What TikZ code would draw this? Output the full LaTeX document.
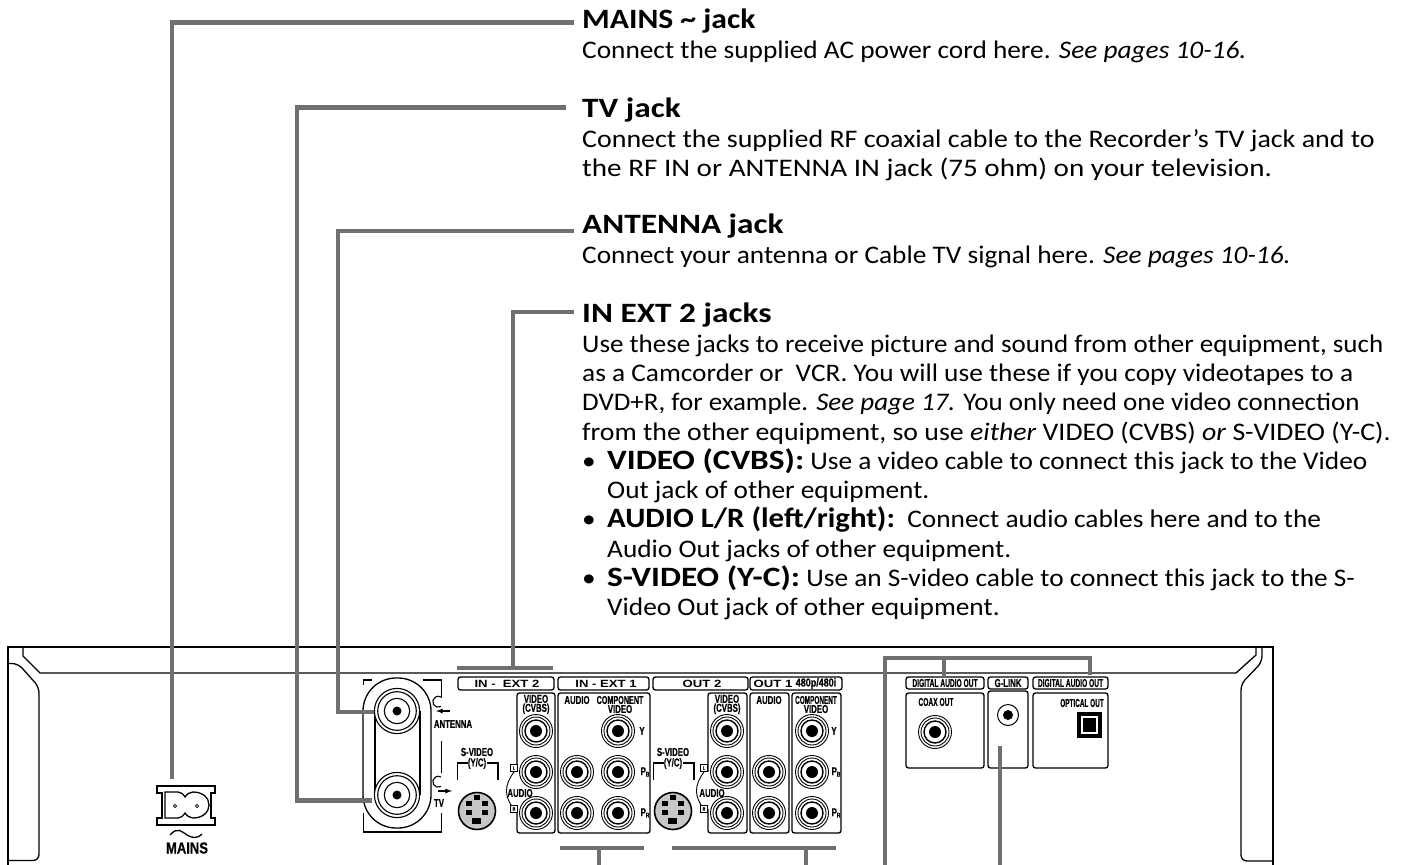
\documentclass[tikz,border=0pt]{standalone}
\usepackage{fontspec}
\setmainfont[FakeStretch=1.08]{Carlito}
\newfontfamily\headfont[FakeStretch=1.19]{Carlito}
\newfontfamily\devfont[FakeStretch=0.68, FakeBold=0.4]{Liberation Sans}
\newfontfamily\widefont[FakeStretch=1.25]{Liberation Sans}
\usetikzlibrary{positioning}
\definecolor{leadgray}{HTML}{707070}
\newcommand{\hd}[1]{{\headfont\bfseries\fontsize{28}{29.3}\selectfont #1}}
\newcommand{\devB}{P\raisebox{-1.5pt}{\fontsize{7}{7}\selectfont B}}
\newcommand{\devR}{P\raisebox{-1.5pt}{\fontsize{7}{7}\selectfont R}}
\newcommand{\squeeze}[2]{\scalebox{#1}[1]{#2}}
\tikzset{
  leader/.style={draw=leadgray, line width=4.3pt},
  outline/.style={draw=black, line width=1.3pt},
  topline/.style={draw=black, line width=2.5pt},
  panel/.style={draw=black, line width=1.3pt, rounded corners=2.5pt},
  desc/.style={anchor=north west, inner sep=0pt, align=left, font=\fontsize{25.3}{29.3}\selectfont},
  devlabel/.style={inner sep=0pt, font=\devfont\bfseries\fontsize{11.5}{9}\selectfont, align=center},
  widelabel/.style={inner sep=0pt, font=\widefont\bfseries\fontsize{10.5}{10}\selectfont},
  tinybox/.style={draw=black, line width=0.8pt, fill=white, minimum size=7pt, inner sep=0pt, font=\devfont\bfseries\fontsize{5}{5}\selectfont},
  jack/.pic={
    \fill[white] (0,0) circle (16.5);
    \draw[line width=0.9pt] (0,0) circle (16.5);
    \draw[line width=0.9pt] (0,0) circle (14);
    \draw[line width=1.4pt] (0,0) circle (11);
    \fill[black] (0,0) circle (6);
  },
  bigjack/.pic={
    \fill[white] (0,0) circle (22.6);
    \draw[line width=1.1pt] (0,0) circle (22.6);
    \draw[line width=1.1pt] (0,0) circle (19.3);
    \draw[line width=1.1pt] (0,0) circle (12.7);
    \fill[black] (0,0) circle (4.5);
  },
  svideo/.pic={
    \draw[line width=1.6pt, fill=black!22] (0,0) circle (18.5);
    \fill[black] (-3,-16) rectangle (3,-11);
    \fill[black] (-11,-10) rectangle (-5,-5);
    \fill[black] (5,-10) rectangle (11,-5);
    \fill[black] (-11,-1) rectangle (-5,4);
    \fill[black] (5,-1) rectangle (11,4);
    \fill[black] (-5,7) rectangle (4,13);
  }
}

\begin{document}
\begin{tikzpicture}[x=1pt, y=-1pt]
\useasboundingbox (0,0) rectangle (1406,865);

% descriptions
\node[desc] (mainstext) at (582,9) {\hd{\squeeze{.95}{MAINS \textasciitilde{} jack}}\\Connect the supplied AC power cord here. \textit{See pages 10-16.}};
\node[desc] (tvtext) at (582,98) {\hd{TV jack}\\\squeeze{1.023}{Connect the supplied RF coaxial cable to the Recorder's TV jack and to}\\\squeeze{1.065}{the RF IN or ANTENNA IN jack (75 ohm) on your television.}};
\node[desc] (antennatext) at (582,214) {\hd{ANTENNA jack}\\Connect your antenna or Cable TV signal here. \textit{See pages 10-16.}};
\node[desc] (inexttext) at (582,303) {\hd{IN EXT 2 jacks}\\
\squeeze{.988}{Use these jacks to receive picture and sound from other equipment, such}\\
as a Camcorder or \ VCR. You will use these if you copy videotapes to a\\
\squeeze{.988}{DVD+R, for example. \textit{See page 17.} You only need one video connection}\\
\squeeze{1.018}{from the other equipment, so use \textit{either} VIDEO (CVBS) \textit{or} S-VIDEO (Y-C).}\\
\makebox[25pt][l]{\textbullet}\hd{VIDEO (CVBS):} Use a video cable to connect this jack to the Video\\
\hspace*{25pt}Out jack of other equipment.\\
\makebox[25pt][l]{\textbullet}\hd{\squeeze{.925}{AUDIO L/R (left/right):}} \ Connect audio cables here and to the\\
\hspace*{25pt}Audio Out jacks of other equipment.\\
\makebox[25pt][l]{\textbullet}\hd{S-VIDEO (Y-C):} Use an S-video cable to connect this jack to the S-\\
\hspace*{25pt}Video Out jack of other equipment.};

% case of the recorder
\draw[topline] (1273,865) -- (1273,647) -- (8,647) -- (8,865);
\draw[outline] (23,647) -- (23,656) -- (40,673) -- (1236,673) -- (1256,655) -- (1256,647);
\draw[outline, rounded corners=6pt] (9,663.5) -- (18,663.5) -- (39,687) -- (39,860.5) -- (9,860.5);
\draw[outline, rounded corners=6pt] (1262,647) -- (1262,662) -- (1241,684) -- (1241,861) -- (1272,861);

% mains socket
\draw[outline, fill=white] (157,786) -- (215,786) -- (215,793) -- (211,793) -- (211,818) -- (215,818) -- (215,825) -- (157,825) -- (157,818) -- (162,818) -- (162,793) -- (157,793) -- cycle;
\draw[outline] (165,792) -- (178,792) .. controls (181,792) and (183,794) .. (185,797) .. controls (187,794) and (190,792) .. (193,792) .. controls (203,792) and (209,798) .. (209,805) .. controls (209,812) and (203,818) .. (193,818) .. controls (190,818) and (187,816) .. (185,813) .. controls (183,816) and (181,818) .. (178,818) -- (165,818) -- cycle;
\draw[line width=0.8pt] (175,806) circle (1.6) (197,806) circle (1.6);
\draw[outline] (170,835) .. controls (178,826) and (182,832) .. (187,835) .. controls (192,838) and (197,839) .. (202,834);
\node[devlabel, font=\devfont\bfseries\fontsize{16}{16}\selectfont] (mainslabel) at (187,848) {\squeeze{1.2}{MAINS}};

% antenna and tv block
\draw[outline, fill=white, rounded corners=33pt] (363,678) rectangle (431,828);
\draw[outline] (375,711) -- (375,795) (420,711) -- (420,795);
\pic at (397,711) {bigjack};
\pic at (397,795) {bigjack};
\draw[outline] (363.5,685) -- (363.5,680) -- (372,680);
\draw[outline] (423,680) -- (441.7,680) -- (441.7,698);
\draw[outline] (441.7,741) -- (441.7,773);
\draw[outline] (363.5,813) -- (363.5,832) -- (441.7,832) -- (441.7,813);
\draw[line width=1.1pt] (441,706.5) arc (60:300:5.5);
\draw[line width=1.1pt] (441,786.5) arc (60:300:5.5);
\draw[-latex, line width=1.3pt] (450,711) -- (436,711);
\draw[-latex, line width=1.3pt] (438,791) -- (452,791);
\node[devlabel] (antennalabel) at (453,724) {ANTENNA};
\node[devlabel] (tvlabel) at (439,803) {TV};

% group headers
\node[panel, minimum width=96pt, minimum height=13pt, inner sep=0pt] (inexttwo) at (506,683.5) {};
\node[widelabel] at (507,683.5) {IN -\ \ EXT 2};
\node[panel, minimum width=91pt, minimum height=13pt, inner sep=0pt] (inextone) at (603.5,683.5) {};
\node[widelabel] at (606,683.5) {IN - EXT 1};
\node[panel, minimum width=95pt, minimum height=13pt, inner sep=0pt] (outtwo) at (700.5,683.5) {};
\node[widelabel] at (702,683.5) {OUT 2};
\node[panel, minimum width=92pt, minimum height=13pt, inner sep=0pt] (outone) at (796,683.5) {};
\node[widelabel] at (773,683.5) {OUT 1};
\node[devlabel] (outonefmt) at (816,683.5) {\squeeze{1.15}{480p/480i}};

% panels with jacks
\draw[panel] (517,693) rectangle (555,833);
\draw[panel] (558,693) rectangle (650,833);
\draw[panel] (708,693) rectangle (747,833);
\draw[panel] (750,693) rectangle (789,833);
\draw[panel] (792,693) rectangle (841,833);
\fill[white] (515,772) rectangle (519,809);
\fill[white] (706,772) rectangle (710,809);
\foreach \jx/\jy in {536/731, 536/772, 536/813, 577/772, 577/813, 618/731, 618/772, 618/813,
                     727/731, 727/772, 727/813, 769/772, 769/813, 812/731, 812/772, 812/813}
  \pic at (\jx,\jy) {jack};

\node[devlabel] (invideo) at (536,704.5) {VIDEO\\(CVBS)};
\node[devlabel] (inaudio) at (577,700) {AUDIO};
\node[devlabel] (incomp) at (620,704.5) {\squeeze{.92}{COMPONENT}\\VIDEO};
\node[devlabel] (outvideo) at (727,704.5) {VIDEO\\(CVBS)};
\node[devlabel] (outaudio) at (769,700) {AUDIO};
\node[devlabel] (outcomp) at (816,704.5) {\squeeze{.82}{COMPONENT}\\VIDEO};
\node[devlabel] (iny) at (642,731) {Y};
\node[devlabel] (inpb) at (645,772) {\devB};
\node[devlabel] (inpr) at (645,813) {\devR};
\node[devlabel] (outy) at (834,731) {Y};
\node[devlabel] (outpb) at (836,772) {\devB};
\node[devlabel] (outpr) at (836,813) {\devR};

% s-video and audio marks
\foreach \sx/\name in {477/insv, 673/outsv} {
  \node[devlabel] (\name) at (\sx,752) {S-VIDEO};
  \node[devlabel] (\name yc) at (\sx,763.5) {(Y/C)};
  \draw[outline] (\sx-19.5,780) -- (\sx-19.5,763) -- (\sx-9,763);
  \draw[outline] (\sx+10,763) -- (\sx+21,763) -- (\sx+21,780);
  \pic at (\sx,811) {svideo};
}
\foreach \ax/\ay/\name in {514/520/inl, 704/712/outl} {
  \draw[line width=0.9pt] (\ax,772) .. controls (\ax-10,785) and (\ax-10,797) .. (\ax,809);
  \node[devlabel] (\name audio) at (\ay,793) {AUDIO};
  \node[tinybox] (\name left) at (\ax,768) {L};
  \node[tinybox] (\name right) at (\ax,809) {R};
}

% digital block
\node[panel, minimum width=78pt, minimum height=12pt, inner sep=0pt] (coaxhead) at (945,683) {};
\node[devlabel] at (coaxhead) {\squeeze{.85}{DIGITAL AUDIO OUT}};
\draw[panel] (906,693) rectangle (984,768);
\node[devlabel] (coaxlabel) at (936,702) {\squeeze{.85}{COAX OUT}};
\pic at (935,732) {jack};
\node[panel, minimum width=40pt, minimum height=12pt, inner sep=0pt] (glinkhead) at (1008,683) {};
\node[devlabel] at (glinkhead) {G-LINK};
\draw[panel] (988,691) rectangle (1028,768);
\draw[line width=1pt] (1008,715) circle (10.5);
\fill[black] (1008,715) circle (5);
\node[panel, minimum width=75pt, minimum height=12pt, inner sep=0pt] (opthead) at (1070.5,683) {};
\node[devlabel] at (opthead) {\squeeze{.85}{DIGITAL AUDIO OUT}};
\draw[panel] (1033,693) rectangle (1108,768);
\node[devlabel] (optlabel) at (1082,703) {\squeeze{.82}{OPTICAL OUT}};
\draw[line width=4pt] (1079,714) rectangle (1100,736);
\fill[black] (1083,718) rectangle (1096,732);

% end points of the leaders
\coordinate (mainsjack) at (172,779);
\coordinate (mainstip) at (574,22.5);
\coordinate (tvjack) at (372,800.5);
\coordinate (tvtip) at (566,107.5);
\coordinate (antjack) at (374,711.7);
\coordinate (anttip) at (574,231);
\coordinate (exttip) at (574,311.7);
\coordinate (extbar) at (513,668);
\coordinate (inonebar) at (599,847.7);
\coordinate (outtwobar) at (806,847.7);
\coordinate (digibar) at (944,657.7);
\coordinate (glinkjack) at (1000,746);

\draw[leader] (mainsjack) |- (mainstip);
\draw[leader] (tvjack) -- (297,800.5) |- (tvtip);
\draw[leader] (antjack) -- (338,711.7) |- (anttip);
\draw[leader] (extbar) |- (exttip);
\draw[leader] (457,668) -- (553,668);
\draw[leader] (560,847.7) -- (644,847.7);
\draw[leader] (inonebar) -- (599,865);
\draw[leader] (672,847.7) -- (836,847.7);
\draw[leader] (outtwobar) -- (806,865);
\draw[leader] (885,865) |- (1090,657.7) -- (1090,675);
\draw[leader] (digibar) -- (944,677);
\draw[leader] (glinkjack) -- (1000,865);
\end{tikzpicture}
\end{document}
